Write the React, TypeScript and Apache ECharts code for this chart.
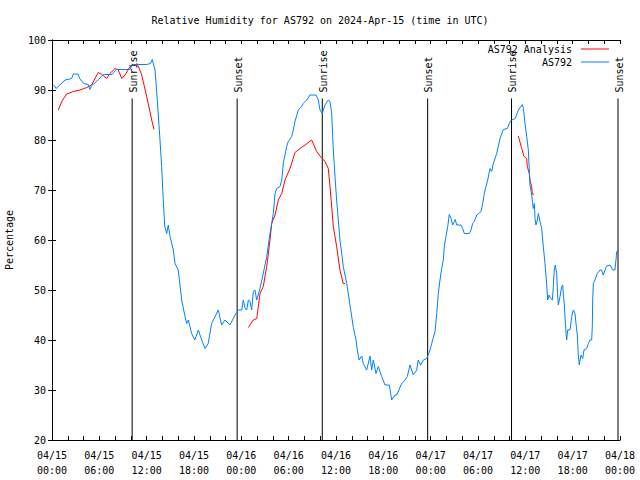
import React, { useEffect, useRef } from "react";
import * as echarts from "echarts";

// Hours since 2024-04-15 00:00 UTC, relative humidity (%)
const obsHours = [0.25,0.5,1.0,1.65,2.5,2.7,3.3,3.5,4.0,4.6,4.8,5.0,5.9,6.5,7.6,7.8,8.2,9.9,10.1,12.0,12.5,12.7,13.06,13.35,13.69,13.9,14.1,14.3,14.54,14.74,14.96,15.38,15.6,16.0,16.44,16.86,17.07,17.28,17.7,18.1,18.55,18.98,19.4,19.8,20.24,21.08,21.5,21.93,22.56,23.2,23.6,24.05,24.25,24.46,24.68,24.9,25.1,25.31,25.52,25.73,25.95,26.37,26.78,27.22,27.63,27.85,28.05,28.27,28.48,28.9,29.12,29.32,29.75,29.95,30.38,30.59,30.8,31.22,31.65,31.85,32.29,32.7,33.47,33.76,33.97,34.26,34.6,35.02,35.24,35.45,35.66,35.87,36.08,36.29,36.5,36.72,36.92,37.14,37.36,37.56,37.86,38.2,38.54,38.7,38.92,39.26,39.46,39.89,40.31,40.52,40.73,41.07,41.36,41.79,42.21,42.76,43.06,43.48,43.69,44.33,44.75,45.04,45.38,45.8,46.23,46.43,46.74,47.07,47.5,47.92,48.13,48.55,48.77,48.97,49.18,49.4,49.6,49.73,49.94,50.16,50.36,50.58,50.79,51.0,51.12,51.3,51.85,52.06,52.26,52.9,53.11,53.32,53.53,53.84,54.09,54.38,54.6,54.8,55.01,55.23,55.52,55.74,55.94,56.37,56.79,57.21,57.72,58.06,58.28,58.7,59.12,59.62,59.75,59.96,60.17,60.38,60.59,60.81,60.93,61.01,61.14,61.23,61.35,61.52,61.65,61.86,62.07,62.28,62.49,62.71,62.83,63.0,63.22,63.42,63.55,63.67,63.8,63.98,64.06,64.18,64.4,64.61,64.74,64.81,64.94,65.03,65.16,65.24,65.37,65.66,65.88,66.08,66.3,66.42,66.59,66.71,66.84,67.06,67.27,67.44,67.78,67.98,68.2,68.41,68.49,68.54,68.62,68.83,69.12,69.46,69.67,69.87,70.3,70.73,71.07,71.36,71.49,71.58,71.79];
const obsValues = [91,90.3,91,92,92.3,93.2,93.2,92.3,91.3,91.1,90.1,90.8,92.1,93.1,93.1,93.5,94.1,94.1,95.1,95.1,95.3,96.1,94,88,80,74.7,68,62.7,61.3,63,60.7,58,55.3,54,48,44.7,43.3,44,41.3,40,42,40,38.3,39.3,43.3,46,43,44,43,45,46,46,48,46.4,46,48,47.7,46,49.7,50,48,50.3,53.3,56.7,61.3,63.3,65.3,69.3,70.3,70.7,72,75.3,78.7,79.7,80.7,82,83.7,86,86.7,87.3,88,89,89,88,86,85.3,87,88,87.7,85.3,78,72.7,68,64,60,57.3,54.7,53,51.3,49.3,46,42.5,40,38,36,36.8,35.3,34,36.8,34,36,33.3,34.7,32.7,31,31,28,29,29,31.3,32,32.7,35,33,34,36,35,36,36.3,38,39.3,41.7,45.3,49.3,52,54.3,56,58.7,60.7,62.7,65.1,64.3,63,63.7,64.1,63,63,62.3,61.3,61.3,62,63.3,63.7,65,65.3,65.7,67.3,69.3,70.7,72,74.3,73.7,75.3,77.3,80.3,82.1,82.3,83.7,84,84.3,86,87.1,86.3,83.3,80.7,78,71,69,67.3,66.3,67.3,64.3,63,64,65.3,63.7,62.3,58.7,55.3,51,48,49,48.3,48,50.7,54,55,53.3,50,47,48.7,50.7,51,49.3,47,44.7,41.3,40,42,42,44.7,46,45.3,43.3,41,37,35,37,36.3,38,38.3,39.3,40,40,42.7,48,51.3,52,53.3,54,54,53,54.8,55,54,54,56,57.7,58];

const anaHours1 = [0.8,1.23,1.86,2.7,3.55,4.4,5.03,5.45,5.87,6.3,6.93,7.35,7.99,8.4,8.84,9.25,9.89,10.3,10.94,11.37,12.0,12.64,12.93];
const anaValues1 = [86,87.7,89.2,89.7,90,90.5,91,92.3,93.5,93.1,92.3,93.3,94.3,94,92.3,93,94.7,95,94.8,93,88.7,84,82.1];
const anaHours2 = [24.88,25.52,25.95,26.37,26.78,27.22,27.63,27.85,28.27,28.69,29.12,29.53,30.17,30.8,31.44,32.07,32.92,33.55,33.97,34.6,35.02,35.24,35.66,36.08,36.5,36.92,37.14];
const anaValues2 = [42.5,44,44.3,49.3,50.7,54.7,60,63.3,65,68,69.3,72,74.3,77.5,78.3,79,80,77.7,76.8,75.7,74.3,70.7,62.7,58.7,54,51.3,51.3];
const anaHours3 = [59.11,59.54,59.83,60.17,60.25,60.5,60.59,60.8,60.88,61.1];
const anaValues3 = [80.8,78.3,76.7,76.3,74.7,73.3,72,70.7,69.2,69.1];

const sunHours = [10.16, 23.47, 34.26, 47.62, 58.25, 71.75];
const sunLabels = ["Sunrise", "Sunset", "Sunrise", "Sunset", "Sunrise", "Sunset"];
const sunLineTop = 88.3;

const FONT = '"DejaVu Sans Mono", "Liberation Mono", monospace';

function fmtHour(h: number): string {
  const day = 15 + Math.floor(h / 24);
  const hh = Math.round(h % 24);
  return "04/" + day + "\n" + String(hh).padStart(2, "0") + ":00";
}

export default function App() {
  const ref = useRef<HTMLDivElement>(null);
  useEffect(() => {
    if (!ref.current) return;
    const chart = echarts.init(ref.current, null, { renderer: "svg" });
    const obs = obsHours.map((h, i) => [h, obsValues[i]]);
    const ana = [
      ...anaHours1.map((h, i) => [h, anaValues1[i]]),
      [18, null],
      ...anaHours2.map((h, i) => [h, anaValues2[i]]),
      [48, null],
      ...anaHours3.map((h, i) => [h, anaValues3[i]]),
    ];
    const axisCommon = {
      type: "value" as const,
      axisLine: { show: true, lineStyle: { color: "#000", width: 1 } },
      splitLine: { show: false },
    };
    chart.setOption({
      animation: false,
      backgroundColor: "#fff",
      textStyle: { fontFamily: FONT },
      title: {
        text: "Relative Humidity for AS792 on 2024-Apr-15 (time in UTC)",
        left: "center",
        top: 10,
        textStyle: { fontFamily: FONT, fontSize: 10, fontWeight: "normal", color: "#000" },
      },
      legend: {
        orient: "vertical",
        right: 26,
        top: 39,
        align: "right",
        itemWidth: 28,
        itemHeight: 1,
        itemGap: 3,
        icon: "rect",
        textStyle: { fontFamily: FONT, fontSize: 10, color: "#000", padding: [0, 4, 0, 0] },
        data: ["AS792 Analysis", "AS792"],
      },
      grid: { left: 52, right: 20, top: 40, bottom: 40, show: false, outerBoundsMode: "none", containLabel: false },
      xAxis: [
        {
          ...axisCommon,
          position: "bottom",
          min: 0,
          max: 72,
          interval: 6,
          axisTick: { show: true, inside: true, length: 4, lineStyle: { color: "#000" } },
          minorTick: { show: true, splitNumber: 3, length: 4, lineStyle: { color: "#000" } },
          axisLabel: {
            formatter: (v: number) => fmtHour(v),
            fontFamily: FONT,
            fontSize: 10,
            color: "#000",
            lineHeight: 15,
            margin: 8,
          },
        },
        {
          ...axisCommon,
          position: "top",
          min: 0,
          max: 72,
          interval: 6,
          axisTick: { show: true, inside: true, length: 4, lineStyle: { color: "#000" } },
          minorTick: { show: true, splitNumber: 3, length: 4, lineStyle: { color: "#000" } },
          axisLabel: { show: false },
        },
      ],
      yAxis: [
        {
          ...axisCommon,
          position: "left",
          min: 20,
          max: 100,
          interval: 10,
          name: "Percentage",
          nameLocation: "middle",
          nameGap: 38,
          nameRotate: 90,
          nameTextStyle: { fontFamily: FONT, fontSize: 10, color: "#000" },
          axisTick: { show: true, inside: true, length: 4, lineStyle: { color: "#000" } },
          axisLabel: { fontFamily: FONT, fontSize: 10, color: "#000", margin: 6 },
        },
        {
          ...axisCommon,
          position: "right",
          min: 20,
          max: 100,
          interval: 10,
          axisTick: { show: true, inside: true, length: 4, lineStyle: { color: "#000" } },
          axisLabel: { show: false },
        },
      ],
      series: [
        {
          type: "custom",
          name: "sun",
          silent: true,
          data: sunHours.map((h) => [h, sunLineTop]),
          renderItem: (params: any, api: any) => {
            const h = api.value(0);
            const top = api.coord([h, sunLineTop]);
            const bot = api.coord([h, 20]);
            return {
              type: "group",
              children: [
                {
                  type: "line",
                  shape: { x1: top[0], y1: top[1], x2: bot[0], y2: bot[1] },
                  style: { stroke: "#000", lineWidth: 1 },
                },
                {
                  type: "text",
                  x: top[0] + 1,
                  y: top[1] - 6,
                  rotation: Math.PI / 2,
                  style: {
                    text: sunLabels[params.dataIndex],
                    textAlign: "left",
                    textVerticalAlign: "middle",
                    font: "10px " + FONT,
                    fill: "#000",
                  },
                },
              ],
            };
          },
        },
        {
          type: "line",
          name: "AS792 Analysis",
          data: ana,
          showSymbol: false,
          connectNulls: false,
          lineStyle: { color: "#ff0000", width: 1 },
          itemStyle: { color: "#ff0000" },
        },
        {
          type: "line",
          name: "AS792",
          data: obs,
          showSymbol: false,
          lineStyle: { color: "#0080ff", width: 1 },
          itemStyle: { color: "#0080ff" },
        },
      ],
    });
    return () => chart.dispose();
  }, []);
  return (
    <div
      ref={ref}
      style={{ position: "fixed", left: 0, top: 0, width: 640, height: 480, background: "#fff" }}
    />
  );
}
